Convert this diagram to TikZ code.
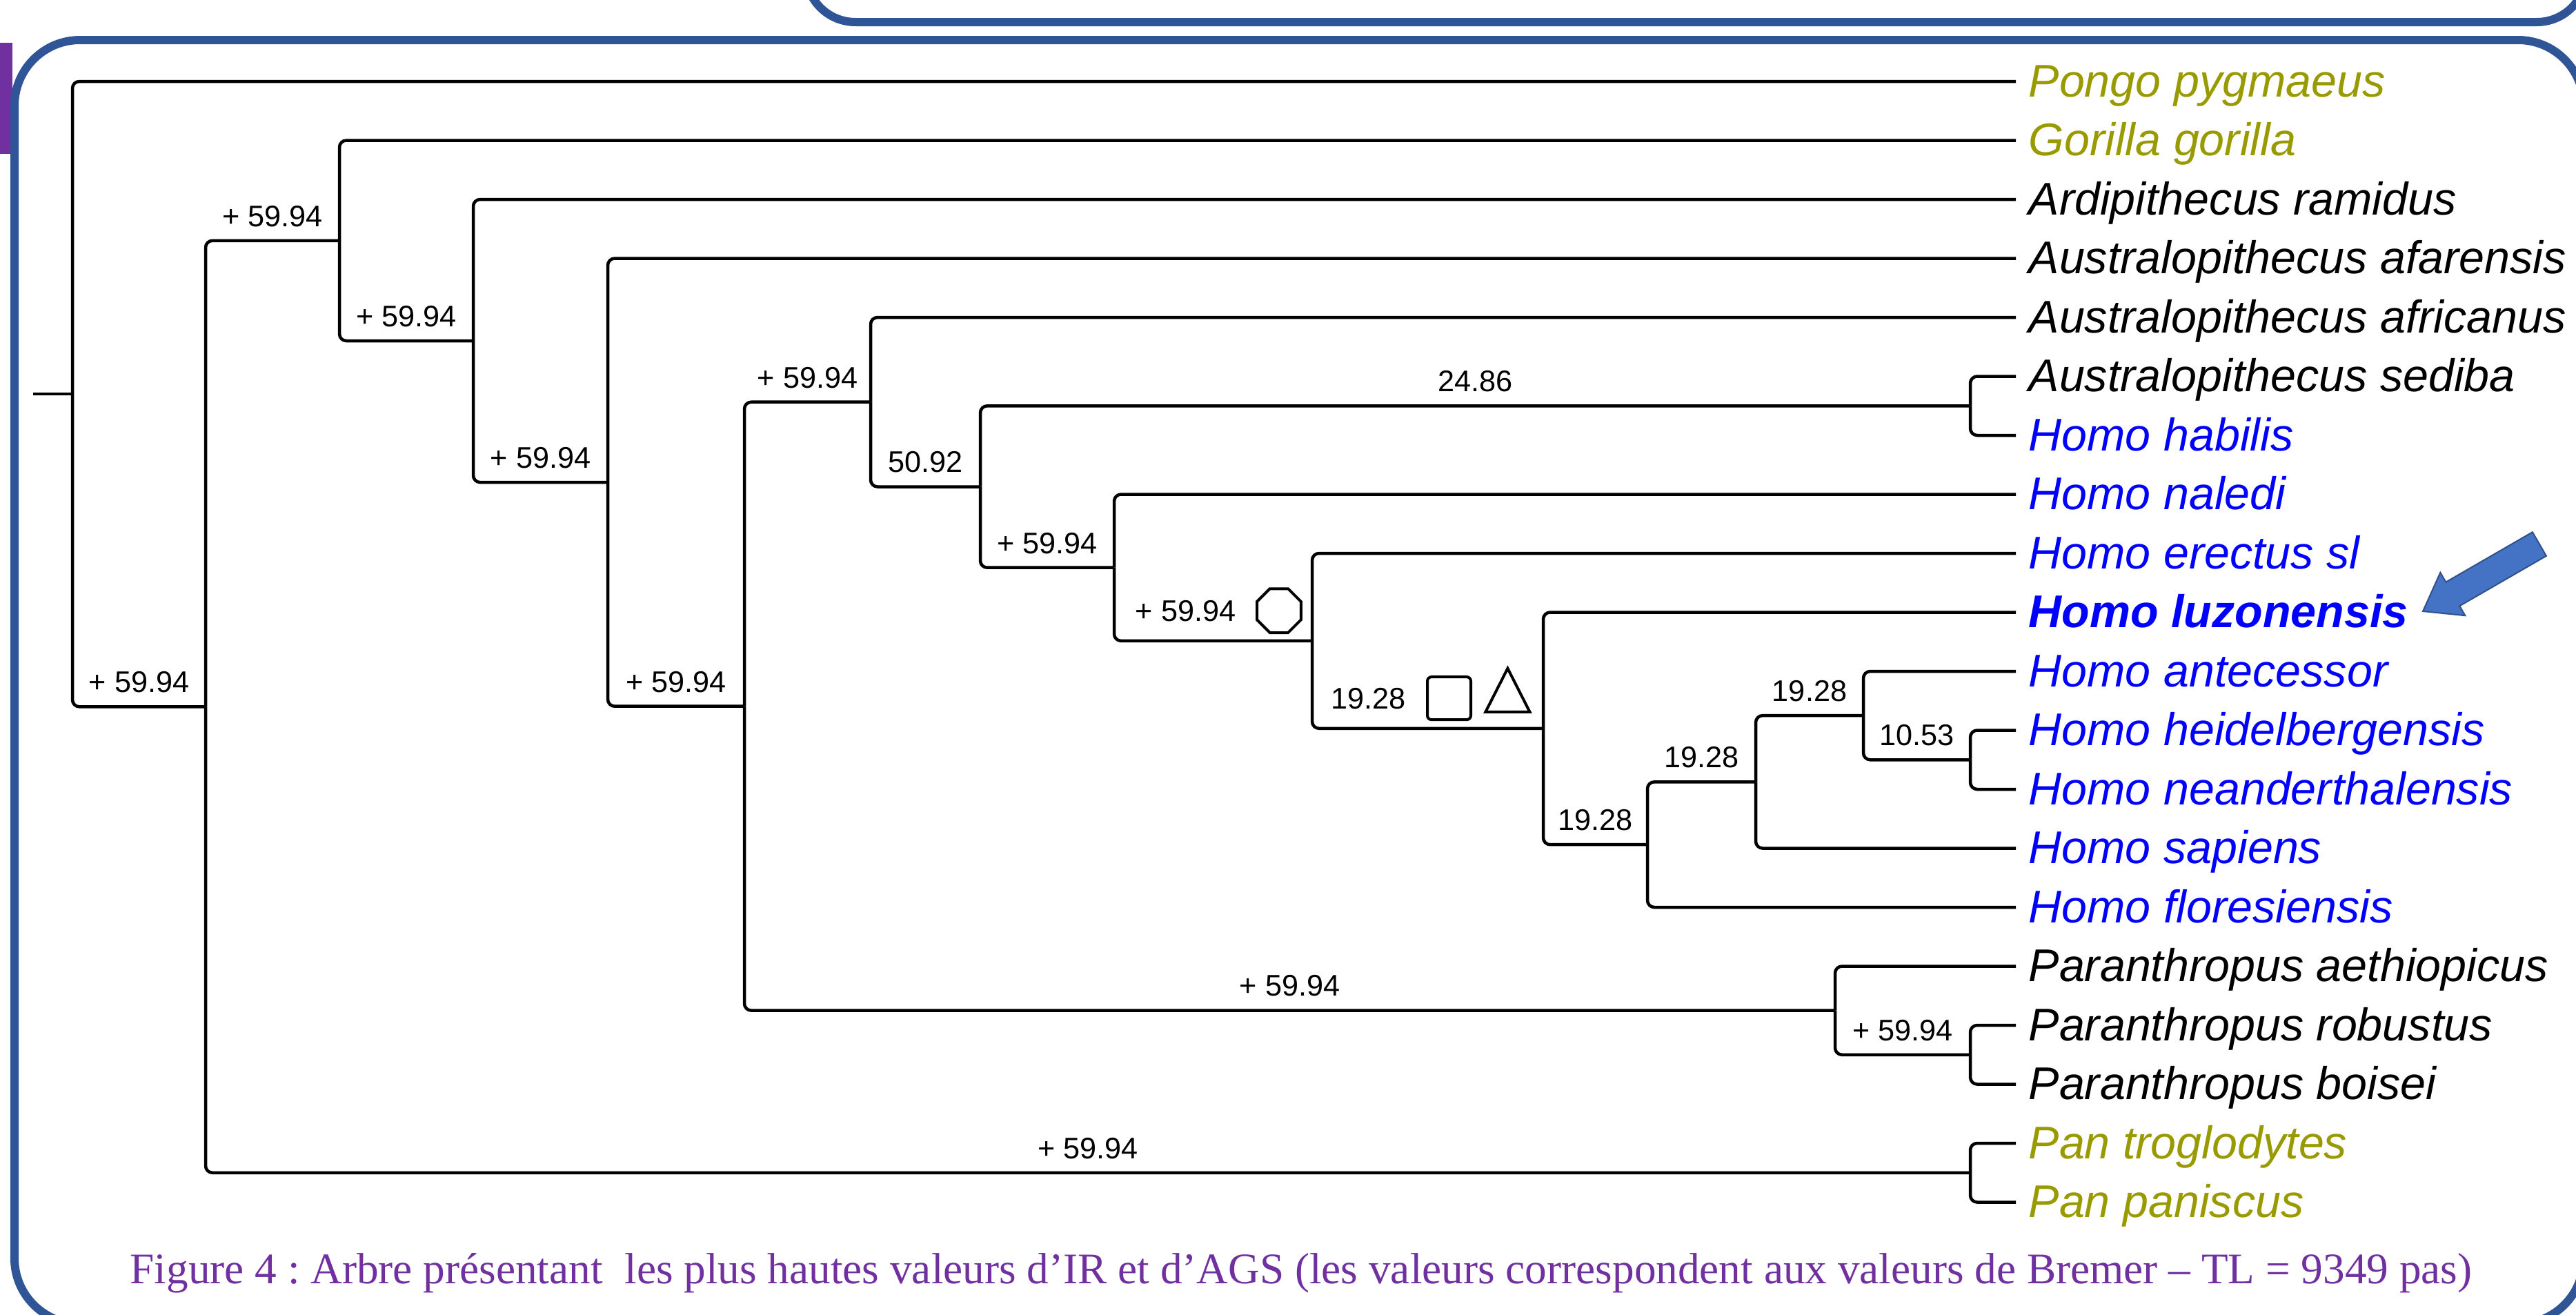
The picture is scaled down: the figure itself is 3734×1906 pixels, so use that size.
\documentclass[tikz,border=0pt]{standalone}
\usepackage{fontspec}
\setmainfont{Liberation Serif}
\setsansfont{Liberation Sans}
\usetikzlibrary{positioning,shapes.geometric}

\definecolor{frameblue}{HTML}{2F5597}
\definecolor{capurple}{HTML}{7030A0}
\definecolor{apeolive}{RGB}{153,153,0}
\definecolor{homoblue}{RGB}{0,0,255}
\definecolor{pointblue}{HTML}{4472C4}

\begin{document}
\frenchspacing
\begin{tikzpicture}[
    x=0.1mm, y=-0.1mm,
    br/.style={line width=0.45mm, rounded corners=1mm},
    frame/.style={line width=1.2mm, draw=frameblue},
    taxon/.style={inner sep=0pt, text height=5mm, text depth=0.6mm, font=\fontsize{18.9}{22}\selectfont\sffamily\itshape},
    blabtxt/.style={inner sep=0pt, font=\fontsize{12.3}{14}\selectfont\sffamily},
    blab/.style={blabtxt, pos=.75, above=1.8mm},
    octo/.style={draw, regular polygon, regular polygon sides=8, minimum size=6.9mm, inner sep=0pt, line width=0.4mm},
    sqmark/.style={draw, rectangle, rounded corners=0.6mm, minimum width=6.3mm, minimum height=6.2mm, inner sep=0pt, line width=0.4mm},
    trimark/.style={draw, isosceles triangle, isosceles triangle stretches, shape border rotate=90, minimum width=6.4mm, minimum height=6.3mm, inner sep=0pt, line width=0.4mm}
]
\useasboundingbox (0,0) rectangle (3734,1906);
\clip (0,0) rectangle (3734,1906);

% frames
\fill[capurple] (0,62) rectangle (18,223);
\draw[frame, rounded corners=7.2mm] (1168,-300) rectangle (3749,32);
\draw[frame, rounded corners=9.5mm] (21,58) rectangle (3745,1919);

% tips
\foreach \tip [count=\i from 0] in {Pongo,Gorilla,Ardi,Afar,Afric,Sediba,Habilis,Naledi,Erectus,Luzon,Ante,Heidel,Neander,Sapiens,Flores,Aethio,Robus,Boisei,Trog,Panis}
  \coordinate (t\tip) at (2922,{118+85.5*\i});

\node[taxon, text=apeolive, right=1.8mm of tPongo] (pongo) {Pongo pygmaeus};
\node[taxon, text=apeolive, right=1.8mm of tGorilla] (gorilla) {Gorilla gorilla};
\node[taxon, right=1.8mm of tArdi] (ardi) {Ardipithecus ramidus};
\node[taxon, right=1.8mm of tAfar] (afar) {Australopithecus afarensis};
\node[taxon, right=1.8mm of tAfric] (afric) {Australopithecus africanus};
\node[taxon, right=1.8mm of tSediba] (sediba) {Australopithecus sediba};
\node[taxon, text=homoblue, right=1.8mm of tHabilis] (habilis) {Homo habilis};
\node[taxon, text=homoblue, right=1.8mm of tNaledi] (naledi) {Homo naledi};
\node[taxon, text=homoblue, right=1.8mm of tErectus] (erectus) {Homo erectus sl};
\node[taxon, text=homoblue, right=1.8mm of tLuzon] (luzon) {\bfseries Homo luzonensis};
\node[taxon, text=homoblue, right=1.8mm of tAnte] (ante) {Homo antecessor};
\node[taxon, text=homoblue, right=1.8mm of tHeidel] (heidel) {Homo heidelbergensis};
\node[taxon, text=homoblue, right=1.8mm of tNeander] (neander) {Homo neanderthalensis};
\node[taxon, text=homoblue, right=1.8mm of tSapiens] (sapiens) {Homo sapiens};
\node[taxon, text=homoblue, right=1.8mm of tFlores] (flores) {Homo floresiensis};
\node[taxon, right=1.8mm of tAethio] (aethio) {Paranthropus aethiopicus};
\node[taxon, right=1.8mm of tRobus] (robus) {Paranthropus robustus};
\node[taxon, right=1.8mm of tBoisei] (boisei) {Paranthropus boisei};
\node[taxon, text=apeolive, right=1.8mm of tTrog] (trog) {Pan troglodytes};
\node[taxon, text=apeolive, right=1.8mm of tPanis] (panis) {Pan paniscus};

% inner nodes
\coordinate (stub) at (48,571.1);
\coordinate (root) at (105,571.1);
\coordinate (nA) at (298,1024.3);
\coordinate (nB) at (492,348.8);
\coordinate (nC) at (686,494.0);
\coordinate (nD) at (881,699.1);
\coordinate (nE) at (1079,1023.7);
\coordinate (nF) at (1262,582.7);
\coordinate (nG) at (1421,705.5);
\coordinate (nS) at (2856,588.3);
\coordinate (nH) at (1615,822.7);
\coordinate (nI) at (1902,928.9);
\coordinate (nJ) at (2237,1055.8);
\coordinate (nK) at (2388,1224.2);
\coordinate (nL) at (2545,1133.3);
\coordinate (nM) at (2701,1037.1);
\coordinate (nN) at (2856,1101.3);
\coordinate (nP) at (2660,1464.6);
\coordinate (nO) at (2856,1528.8);
\coordinate (nPan) at (2856,1699.8);

% branches
\draw[br] (stub) -- (root);
\draw[br] (root) |- (tPongo);
\draw[br] (root) |- node[blab] {+ 59.94} (nA);
\draw[br] (nA) |- node[blab] {+ 59.94} (nB);
\draw[br] (nA) |- node[blab] {+ 59.94} (nPan);
\draw[br] (nB) |- (tGorilla);
\draw[br] (nB) |- node[blab] {+ 59.94} (nC);
\draw[br] (nC) |- (tArdi);
\draw[br] (nC) |- node[blab] {+ 59.94} (nD);
\draw[br] (nD) |- (tAfar);
\draw[br] (nD) |- node[blab] {+ 59.94} (nE);
\draw[br] (nE) |- node[blab] {+ 59.94} (nF);
\draw[br] (nE) |- node[blab] {+ 59.94} (nP);
\draw[br] (nF) |- (tAfric);
\draw[br] (nF) |- node[blab] {50.92} (nG);
\draw[br] (nG) |- node[blab] {24.86} (nS);
\draw[br] (nG) |- node[blab] {+ 59.94} (nH);
\draw[br] (nS) |- (tSediba);
\draw[br] (nS) |- (tHabilis);
\draw[br] (nH) |- (tNaledi);
\draw[br] (nH) |- (nI);
\draw[br] (nI) |- (tErectus);
\draw[br] (nI) |- (nJ);
\draw[br] (nJ) |- (tLuzon);
\draw[br] (nJ) |- node[blab] {19.28} (nK);
\draw[br] (nK) |- node[blab] {19.28} (nL);
\draw[br] (nK) |- (tFlores);
\draw[br] (nL) |- node[blab] {19.28} (nM);
\draw[br] (nL) |- (tSapiens);
\draw[br] (nM) |- (tAnte);
\draw[br] (nM) |- node[blab] {10.53} (nN);
\draw[br] (nN) |- (tHeidel);
\draw[br] (nN) |- (tNeander);
\draw[br] (nP) |- (tAethio);
\draw[br] (nP) |- node[blab] {+ 59.94} (nO);
\draw[br] (nO) |- (tRobus);
\draw[br] (nO) |- (tBoisei);
\draw[br] (nPan) |- (tTrog);
\draw[br] (nPan) |- (tPanis);

% labels with marks
\node[blabtxt, anchor=base east] (lblHI) at (1792,900) {+ 59.94};
\node[octo, right=2.8mm of lblHI] (octHI) {};
\node[blabtxt, anchor=base east] (lblIJ) at (2038,1027) {19.28};
\node[sqmark, right=2.9mm of lblIJ] (sqIJ) {};
\node[trimark, right=2.7mm of sqIJ] (triIJ) {};

% pointer
\fill[pointblue, draw=pointblue!70!black, line width=0.2mm] (3690.9,805.8) -- (3565.3,878.3) -- (3573.3,892.2) -- (3512,886) -- (3537.3,829.8) -- (3545.3,843.7) -- (3670.9,771.2) -- cycle;

\node[anchor=base, inner sep=0pt, text=capurple, font=\fontsize{18}{22}\selectfont] (caption) at (1886,1860) {Figure 4 : Arbre présentant\ \ les plus hautes valeurs d’IR et d’AGS (les valeurs correspondent aux valeurs de Bremer – TL = 9349 pas)};
\end{tikzpicture}
\end{document}
